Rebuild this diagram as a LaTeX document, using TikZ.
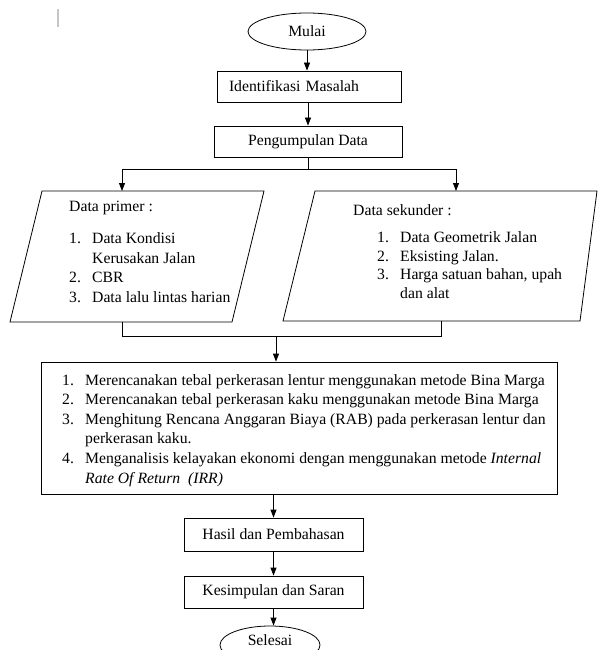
\documentclass[tikz,border=0pt]{standalone}
\usepackage{fontspec}
\setmainfont{Liberation Serif}
\usetikzlibrary{positioning, shapes.geometric, arrows.meta}

\newcommand{\butir}[1]{\makebox[23pt][l]{#1}}
\newcommand{\lanjut}{\hspace*{23pt}}

\tikzset{
  kotak/.style={draw, line width=0.8pt, rectangle, minimum height=31pt, inner sep=0pt},
  terminal/.style={draw, line width=0.8pt, ellipse, inner sep=0pt},
  teks/.style={inner sep=0pt, anchor=base west, align=left},
  panah/.style={-{Triangle[length=8pt,width=6pt]}, line width=0.8pt},
  garis/.style={line width=0.8pt},
}

\begin{document}
\begin{tikzpicture}[x=1pt, y=-1pt, font=\fontsize{15.7}{19.4}\selectfont]
    \clip (0,0) rectangle (598,650);

    % penanda kursor
    \draw[gray!45, line width=1.3pt] (58,9) -- (58,27);

    % Alur atas
    \node[terminal, minimum width=118pt, minimum height=37pt] (mulai) at (307,31.5) {Mulai};
    \node[kotak, minimum width=184pt, text width=160pt, inner xsep=12pt, align=left] (identifikasi) at (309,86.5) {Identifikasi Masalah};
    \node[kotak, minimum width=188pt] (pengumpulan) at (308,141.5) {Pengumpulan Data};

    \draw[panah] (mulai.south) -- (mulai.south |- identifikasi.north);
    \draw[panah] (pengumpulan.north |- identifikasi.south) -- (pengumpulan.north);

    % Data primer dan sekunder
    \draw[garis] (42,191) -- (264,191) -- (232,322) -- (10,322) -- cycle;
    \draw[garis] (315,191) -- (597,191) -- (580,321) -- (283,321) -- cycle;
    \coordinate (primer-atas) at (122,191);
    \coordinate (sekunder-atas) at (456,191);
    \coordinate (primer-bawah) at (122,322);
    \coordinate (sekunder-bawah) at (441,321);

    % baris terakhir pada titik base
    \node[teks] (primer) at (69,302) {Data primer :\\[12.6pt]%
      \butir{1.}Data Kondisi\\\lanjut Kerusakan Jalan\\\butir{2.}CBR\\\butir{3.}Data lalu lintas harian};
    \node[teks, font=\fontsize{15.7}{18.4}\selectfont] (sekunder) at (353,298) {Data sekunder :\\[8.6pt]%
      \hspace*{24pt}\butir{1.}Data Geometrik Jalan\\\hspace*{24pt}\butir{2.}Eksisting Jalan.\\%
      \hspace*{24pt}\butir{3.}Harga satuan bahan, upah\\\hspace*{24pt}\lanjut dan alat};

    \draw (pengumpulan.south) -- ++(0,12) coordinate (simpang);
    \draw[panah] (simpang) -| (primer-atas);
    \draw[panah] (simpang) -| (sekunder-atas);

    % Analisis
    \node[kotak, minimum width=516pt, minimum height=132pt] (analisis) at (299,428) {};
    \node[teks, font=\fontsize{15.7}{19.6}\selectfont] (analisisteks) at (62,483) {%
      \butir{1.}Merencanakan tebal perkerasan lentur menggunakan metode Bina Marga\\%
      \butir{2.}Merencanakan tebal perkerasan kaku menggunakan metode Bina Marga\\%
      \butir{3.}Menghitung Rencana Anggaran Biaya (RAB) pada perkerasan lentur dan\\%
      \lanjut perkerasan kaku.\\%
      \butir{4.}Menganalisis kelayakan ekonomi dengan menggunakan metode \textit{Internal}\\%
      \lanjut\textit{Rate Of Return\ \ (IRR)}};

    \coordinate (gabung) at (276,336);
    \draw[garis] (primer-bawah) |- (gabung);
    \draw[garis] (sekunder-bawah) |- (gabung);
    \draw[panah] (gabung) -- (gabung |- analisis.north);

    % Alur bawah
    \node[kotak, minimum width=179pt, minimum height=33pt] (hasil) at (273.5,534.5) {Hasil dan Pembahasan};
    \node[kotak, minimum width=179pt, minimum height=32pt] (kesimpulan) at (273.5,592) {Kesimpulan dan Saran};
    \node[terminal, minimum width=100pt, minimum height=38pt, text height=11pt, text depth=11pt] (selesai) at (270,645) {Selesai};

    \draw[panah] (analisis.south -| hasil) -- (hasil.north);
    \draw[panah] (hasil.south) -- (kesimpulan.north);
    \draw[panah] (kesimpulan.south) -- (kesimpulan.south |- selesai.north);

\end{tikzpicture}
\end{document}
